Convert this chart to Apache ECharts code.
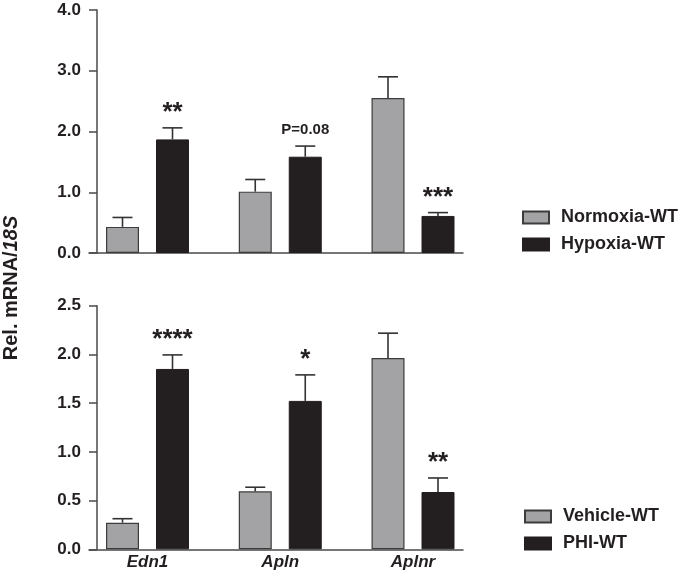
<!DOCTYPE html>
<html>
<head>
<meta charset="utf-8">
<script src="https://cdn.jsdelivr.net/npm/echarts@6/dist/echarts.min.js"></script>
<style>html,body{margin:0;padding:0;background:#fff}#c{width:680px;height:579px}</style>
</head>
<body>
<div id="c"></div>
<script>
const categories = ['Edn1', 'Apln', 'Aplnr'];
const categoryPositions = [0, 1, 2];

const topNormoxia = [0.43, 1.01, 2.55];
const topNormoxiaErr = [0.155, 0.20, 0.35];
const topHypoxia = [1.87, 1.585, 0.61];
const topHypoxiaErr = [0.19, 0.175, 0.055];
const topMarks = ['**', 'P=0.08', '***'];

const bottomVehicle = [0.273, 0.595, 1.964];
const bottomVehicleErr = [0.041, 0.042, 0.254];
const bottomPHI = [1.851, 1.523, 0.588];
const bottomPHIErr = [0.144, 0.267, 0.144];
const bottomMarks = ['****', '*', '**'];

const topAxis = { min: 0, max: 4, interval: 1 };
const bottomAxis = { min: 0, max: 2.5, interval: 0.5 };

const FONT = '"Liberation Sans", Arial, Helvetica, sans-serif';
const INK = '#231f20';
const AXIS = '#4a4a4a';
const GRAY = '#a3a3a5';
const BAR_W = 33;
const HALF_PAIR = 25;

const pairs = (vals) => vals.map((v, i) => [categoryPositions[i], v]);
const errs = (vals, e) => vals.map((v, i) => [categoryPositions[i], v, e[i]]);

function errRender(offset, marks) {
  return function (params, api) {
    const x = api.value(0), v = api.value(1), e = api.value(2);
    const b = api.coord([x, v]);
    const t = api.coord([x, v + e]);
    const cx = b[0] + offset;
    const children = [
      { type: 'line', shape: { x1: cx, y1: b[1], x2: cx, y2: t[1] }, style: { stroke: '#333', lineWidth: 1.6 } },
      { type: 'line', shape: { x1: cx - 10, y1: t[1], x2: cx + 10, y2: t[1] }, style: { stroke: '#333', lineWidth: 1.6 } }
    ];
    const m = marks ? marks[params.dataIndex] : '';
    if (m) {
      const isStar = m.indexOf('*') === 0;
      children.push({
        type: 'text',
        x: cx, y: isStar ? t[1] - 2 : t[1] - 9,
        style: {
          text: m,
          font: isStar ? 'bold 26px ' + FONT : 'bold 15px ' + FONT,
          fill: INK, align: 'center', verticalAlign: 'bottom'
        }
      });
    }
    return { type: 'group', children };
  };
}

function xAxisCfg(gridIndex, showLabel) {
  return {
    type: 'value', gridIndex, min: -0.4407, max: 2.3766,
    axisLine: { show: true, onZero: false, lineStyle: { color: AXIS, width: 1.5 } },
    axisTick: { show: false },
    splitLine: { show: false },
    axisLabel: {
      show: showLabel, customValues: categoryPositions,
      formatter: (v) => categories[Math.round(v)] || '',
      fontFamily: FONT, fontWeight: 'bold', fontStyle: 'italic', fontSize: 17, color: INK, margin: 5
    }
  };
}

function yAxisCfg(gridIndex, ax) {
  return {
    type: 'value', gridIndex, min: ax.min, max: ax.max, interval: ax.interval, offset: -8,
    axisLine: { show: true, onZero: false, lineStyle: { color: AXIS, width: 1.5 } },
    axisTick: { show: true, length: 8, lineStyle: { color: AXIS, width: 1.5 } },
    splitLine: { show: false },
    axisLabel: {
      formatter: (v) => v.toFixed(1), fontFamily: FONT, fontWeight: 'bold', fontSize: 17, color: INK, margin: 16
    }
  };
}

function legendCfg(names, left, top) {
  return {
    data: names, orient: 'vertical', left, top, icon: 'rect',
    itemWidth: 26, itemHeight: 12, itemGap: 9,
    textStyle: { fontFamily: FONT, fontWeight: 'bold', fontSize: 18, color: INK, lineHeight: 18, padding: [0, 0, 0, 7] },
    selectedMode: false
  };
}

const grayStyle = { color: GRAY, borderColor: '#3c3c3c', borderWidth: 1.2 };
const blackStyle = { color: INK, borderColor: INK, borderWidth: 1 };

const option = {
  animation: false,
  grid: [
    { left: 89, top: 10, width: 374, height: 243 },
    { left: 89, top: 305.7, width: 374, height: 243.6 }
  ],
  xAxis: [xAxisCfg(0, false), xAxisCfg(1, true)],
  yAxis: [yAxisCfg(0, topAxis), yAxisCfg(1, bottomAxis)],
  legend: [
    legendCfg(['Normoxia-WT', 'Hypoxia-WT'], 517, 203.5),
    legendCfg(['Vehicle-WT', 'PHI-WT'], 519, 502.5)
  ],
  graphic: [{
    type: 'text', x: 11, y: 288, rotation: Math.PI / 2,
    style: {
      text: '{a|Rel. mRNA/}{b|18S}',
      align: 'center', verticalAlign: 'middle',
      rich: {
        a: { fontFamily: FONT, fontWeight: 'bold', fontSize: 20, fill: INK, color: INK },
        b: { fontFamily: FONT, fontWeight: 'bold', fontStyle: 'italic', fontSize: 20, fill: INK, color: INK }
      }
    }
  }],
  series: [
    { name: 'Normoxia-WT', type: 'bar', xAxisIndex: 0, yAxisIndex: 0, data: pairs(topNormoxia), barWidth: BAR_W, barGap: '51.5%', itemStyle: grayStyle },
    { name: 'Hypoxia-WT', type: 'bar', xAxisIndex: 0, yAxisIndex: 0, data: pairs(topHypoxia), barWidth: BAR_W, barGap: '51.5%', itemStyle: blackStyle },
    { name: 'Vehicle-WT', type: 'bar', xAxisIndex: 1, yAxisIndex: 1, data: pairs(bottomVehicle), barWidth: BAR_W, barGap: '51.5%', itemStyle: grayStyle },
    { name: 'PHI-WT', type: 'bar', xAxisIndex: 1, yAxisIndex: 1, data: pairs(bottomPHI), barWidth: BAR_W, barGap: '51.5%', itemStyle: blackStyle },
    { name: 'errN', type: 'custom', xAxisIndex: 0, yAxisIndex: 0, data: errs(topNormoxia, topNormoxiaErr), renderItem: errRender(-HALF_PAIR, null), z: 3 },
    { name: 'errH', type: 'custom', xAxisIndex: 0, yAxisIndex: 0, data: errs(topHypoxia, topHypoxiaErr), renderItem: errRender(HALF_PAIR, topMarks), z: 3 },
    { name: 'errV', type: 'custom', xAxisIndex: 1, yAxisIndex: 1, data: errs(bottomVehicle, bottomVehicleErr), renderItem: errRender(-HALF_PAIR, null), z: 3 },
    { name: 'errP', type: 'custom', xAxisIndex: 1, yAxisIndex: 1, data: errs(bottomPHI, bottomPHIErr), renderItem: errRender(HALF_PAIR, bottomMarks), z: 3 }
  ]
};

const chart = echarts.init(document.getElementById('c'), null, { renderer: 'canvas' });
chart.setOption(option);
</script>
</body>
</html>
